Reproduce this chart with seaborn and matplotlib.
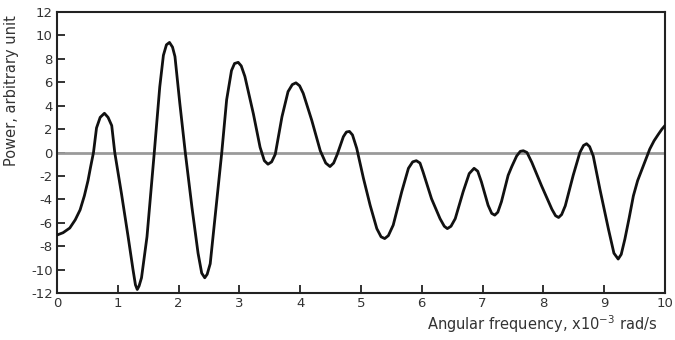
import matplotlib
matplotlib.use("Agg")
import matplotlib.pyplot as plt
import seaborn as sns
import pandas as pd

# Values
freq = [0.00, 0.10, 0.21, 0.30, 0.38, 0.45, 0.51, 0.55, 0.60, 0.65, 0.71, 0.78, 0.84, 0.90, 0.95,
        1.06, 1.17, 1.25, 1.29,
        1.32, 1.35, 1.39, 1.48, 1.60, 1.69, 1.75, 1.80, 1.85, 1.90, 1.94, 2.02, 2.11, 2.22, 2.32,
        2.38, 2.43, 2.47, 2.52, 2.60, 2.71, 2.79, 2.87, 2.92, 2.98, 3.03, 3.09, 3.23, 3.34, 3.41,
        3.47, 3.53, 3.59, 3.70, 3.80, 3.87, 3.93, 3.99, 4.05, 4.19, 4.33, 4.42, 4.49, 4.55, 4.61,
        4.71, 4.76, 4.81, 4.86, 4.93, 5.04, 5.15, 5.26, 5.33, 5.39, 5.45, 5.53, 5.67, 5.78, 5.85,
        5.91, 5.97, 6.02, 6.16, 6.30, 6.37, 6.42, 6.48, 6.55, 6.68, 6.78, 6.86, 6.92, 6.98, 7.09,
        7.15, 7.20, 7.25, 7.31, 7.42, 7.48, 7.56, 7.62, 7.67, 7.73, 7.81, 7.97, 8.14, 8.20, 8.25,
        8.30, 8.36, 8.49, 8.60, 8.66, 8.71, 8.76, 8.82, 8.93, 9.07, 9.16, 9.23, 9.28, 9.34, 9.41,
        9.48, 9.55, 9.62, 9.69, 9.75, 9.82, 9.89, 9.95, 10.00]
power = [-7.05, -6.85, -6.45, -5.75, -4.9, -3.7, -2.4, -1.3, 0.0, 2.1, 3.0, 3.35, 3.0, 2.3, 0.0,
         -3.5, -7.2, -10.0, -11.3,
         -11.7, -11.4, -10.7, -7.2, 0.0, 5.6, 8.3, 9.2, 9.4, 9.0, 8.2, 4.2, 0.0, -4.7, -8.6,
         -10.3, -10.7, -10.4, -9.5, -5.5, 0.0, 4.5, 7.0, 7.6, 7.7, 7.4, 6.5, 3.3, 0.45, -0.7,
         -1.0, -0.8, -0.15, 3.05, 5.2, 5.8, 5.95, 5.7, 5.05, 2.75, 0.15, -0.9, -1.2, -0.9, -0.15,
         1.35, 1.75, 1.8, 1.5, 0.35, -2.2, -4.5, -6.5, -7.2, -7.35, -7.1, -6.2, -3.35, -1.35, -0.8,
         -0.7, -0.9, -1.65, -3.95, -5.65, -6.3, -6.5, -6.3, -5.65, -3.35, -1.8, -1.35, -1.6, -2.5, -4.5,
         -5.2, -5.35, -5.1, -4.2, -1.95, -1.2, -0.3, 0.1, 0.15, 0.0, -0.85, -2.85, -4.85, -5.4, -5.55,
         -5.3, -4.55, -1.95, 0.0, 0.6, 0.75, 0.5, -0.3, -3.15, -6.55, -8.6, -9.1, -8.7, -7.4, -5.6,
         -3.7, -2.4, -1.45, -0.5, 0.3, 1.0, 1.55, 2.0, 2.3]

x_ticks = [0, 1, 2, 3, 4, 5, 6, 7, 8, 9, 10]
y_ticks = [12, 10, 8, 6, 4, 2, 0, -2, -4, -6, -8, -10, -12]

sns.set_style("ticks")
plt.rcParams['font.family'] = ['DejaVu Sans']

fig = plt.figure(figsize=(6.75, 3.4), dpi=100)
ax = fig.add_axes([57/675, 1 - 293/340, (665 - 57)/675, (293 - 12)/340])

df = pd.DataFrame({"freq": freq, "power": power})
ax.axhline(0, color="#9a9a9a", lw=2.0, zorder=1)
sns.lineplot(data=df, x="freq", y="power", ax=ax, color="#111111", lw=2.0,
             solid_joinstyle="round", solid_capstyle="round", zorder=3)

ax.set_xlim(0, 10)
ax.set_ylim(-12, 12)
ax.set_xticks(x_ticks)
ax.set_yticks(y_ticks)
ax.set_xticklabels([str(v) for v in x_ticks])
ax.set_yticklabels([str(v) for v in y_ticks])
ax.tick_params(direction="in", length=6, width=1.3, colors="#222222",
               labelsize=9.5, labelcolor="#333333", pad=3)

for s in ax.spines.values():
    s.set_linewidth(1.5)
    s.set_color("#222222")

ax.set_xlabel("Angular frequency, x10$^{-3}$ rad/s", fontsize=10.5, color="#333333")
ax.set_ylabel("Power, arbitrary unit", fontsize=10.5, color="#333333")
ax.xaxis.set_label_coords((542 - 57)/608, -0.072)
ax.yaxis.set_label_coords(-0.062, 0.72)

fig.savefig("out.png", dpi=100)
